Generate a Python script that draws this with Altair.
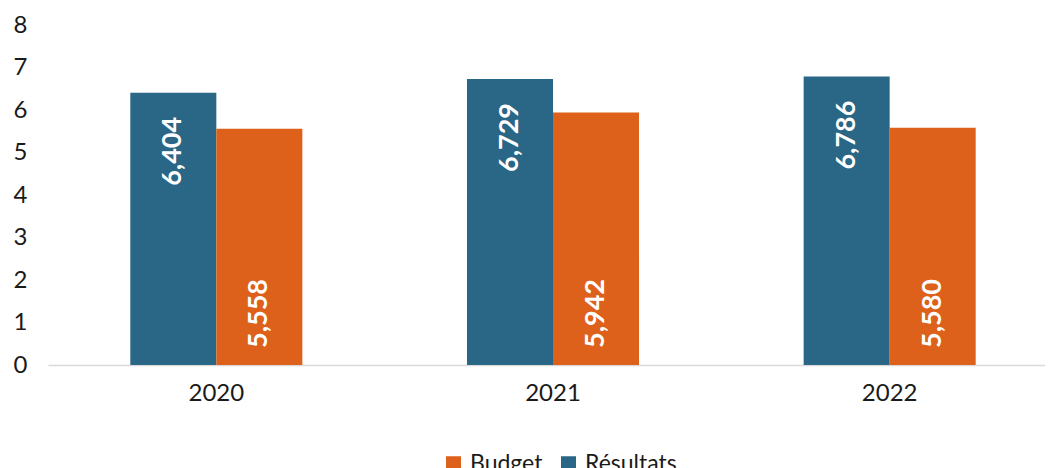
import altair as alt
import pandas as pd

years = ["2020", "2021", "2022"]
resultats = [6.404, 6.729, 6.786]
budget = [5.558, 5.942, 5.580]
series_order = ["Résultats", "Budget"]
legend_order = ["Budget", "Résultats"]
colors = ["#DD601B", "#2A6685"]

rows = []
for i, y in enumerate(years):
    rows.append({"year": y, "series": "Résultats", "value": resultats[i],
                 "label": f"{resultats[i]:,.3f}".replace(".", ",")})
    rows.append({"year": y, "series": "Budget", "value": budget[i],
                 "label": f"{budget[i]:,.3f}".replace(".", ",")})
df = pd.DataFrame(rows)

FONT = "Lato"

x = alt.X("year:N", title=None,
          scale=alt.Scale(paddingInner=0.489, paddingOuter=0.2445, range=[0, 1010]),
          axis=alt.Axis(labelAngle=0, labelFontSize=24, labelFont=FONT,
                        labelColor="#1a1a1a", labelPadding=16, ticks=False,
                        domainColor="#d9d9d9", domainWidth=1.5))
xoff = alt.XOffset("series:N", scale=alt.Scale(domain=series_order, paddingInner=0, paddingOuter=0))
y = alt.Y("value:Q", title=None,
          scale=alt.Scale(domain=[0, 8], nice=False),
          axis=alt.Axis(values=list(range(0, 9)), labelFontSize=24, labelFont=FONT,
                        labelColor="#1a1a1a", labelPadding=21, ticks=False,
                        domain=False, grid=False))

bars = alt.Chart(df).mark_bar().encode(
    x=x, xOffset=xoff, y=y,
    color=alt.Color("series:N", scale=alt.Scale(domain=legend_order, range=colors),
                    legend=alt.Legend(title=None, orient="none", direction="horizontal",
                                      legendX=394, legendY=427, symbolType="square",
                                      symbolSize=225, symbolStrokeWidth=0,
                                      labelFontSize=23, labelFont=FONT, labelColor="#1a1a1a",
                                      labelOffset=5, columnPadding=14, padding=0,
                                      symbolOpacity=1)),
)

top_labels = alt.Chart(df).transform_filter(alt.datum.series == "Résultats").mark_text(
    angle=270, align="right", baseline="middle", dx=-24, color="white",
    font=FONT, fontWeight="bold", fontSize=27
).encode(x=x, xOffset=xoff, y=y, text="label:N")

base_labels = alt.Chart(df).transform_filter(alt.datum.series == "Budget").mark_text(
    angle=270, align="left", baseline="middle", dx=17, color="white",
    font=FONT, fontWeight="bold", fontSize=27
).encode(x=x, xOffset=xoff, y=alt.Y(datum=0), text="label:N")

chart = alt.layer(bars, top_labels, base_labels).properties(
    width=997, height=340,
    background="white",
    autosize=alt.AutoSizeParams(type="none"),
    padding={"left": 40, "top": 17, "right": 0, "bottom": 120},
).configure_view(stroke=None)

chart.save("out.html", embed_options={"renderer": "svg", "actions": False})
